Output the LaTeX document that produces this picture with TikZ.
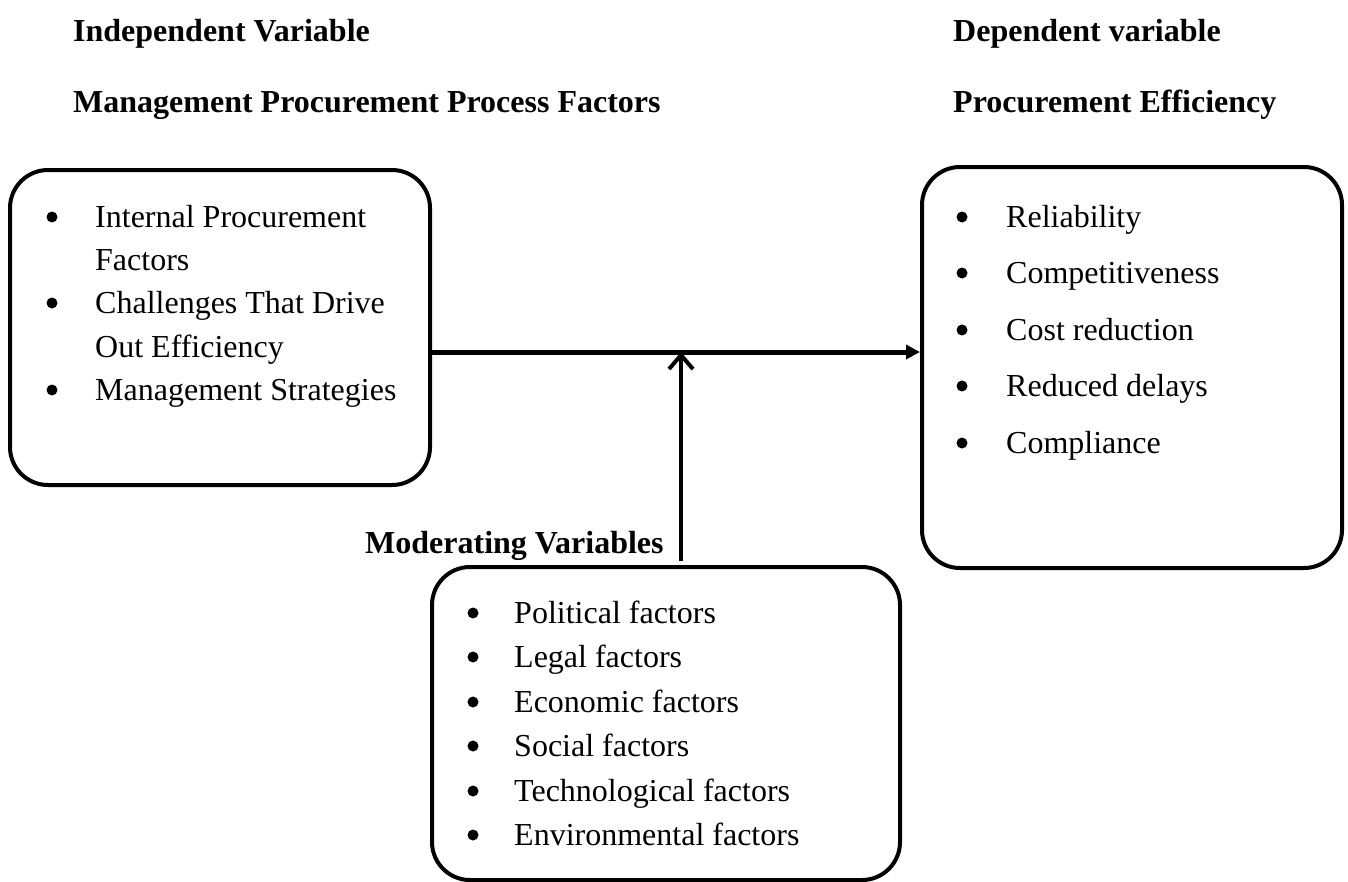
\documentclass[tikz,border=0pt]{standalone}
\usepackage{fontspec}
\setmainfont{Liberation Serif}
\usetikzlibrary{arrows.meta,positioning}
\tikzset{
    box/.style={draw, line width=4pt, rounded corners=38pt, inner sep=0pt},
    head/.style={anchor=base west, inner sep=0pt, font=\fontsize{32}{36}\selectfont\bfseries},
    item/.style={anchor=base west, inner sep=0pt, font=\fontsize{32}{36}\selectfont},
    bul/.style={circle, fill, inner sep=0pt, minimum size=11pt},
    link/.style={line width=5pt, -{Triangle[length=14pt,width=14pt]}},
    moder/.style={line width=4pt, -{Straight Barb[length=14pt,width=24pt,line width=4pt]}}
}

\begin{document}
\begin{tikzpicture}[x=1pt,y=-1pt]
\useasboundingbox (0,0) rectangle (1348,881);
% headings
\node[head] (ivhead) at (73,41) {Independent Variable};
\node[head] (ivname) at (73,112) {Management Procurement Process Factors};
\node[head] (dvhead) at (953,41) {Dependent variable};
\node[head] (dvname) at (953,112) {Procurement Efficiency};
\node[head] (mvhead) at (365,553) {Moderating Variables};
% boxes
\node[box, minimum width=420pt, minimum height=315pt] (ivbox) at (220,327.5) {};
\node[box, minimum width=420pt, minimum height=401pt] (dvbox) at (1132,367.5) {};
\node[box, minimum width=468pt, minimum height=313pt] (mvbox) at (666,723.5) {};
% independent items
\node[bul] (ivb1) at (52,217) {};
\node[item] (iv1) at (95,227) {Internal Procurement};
\node[item] (iv1b) at (95,270) {Factors};
\node[bul] (ivb2) at (52,303) {};
\node[item] (iv2) at (95,313) {Challenges That Drive};
\node[item] (iv2b) at (95,357) {Out Efficiency};
\node[bul] (ivb3) at (52,390) {};
\node[item] (iv3) at (95,400) {Management Strategies};
% dependent items
\node[bul] (dvb1) at (962,217) {};
\node[item] (dv1) at (1006,227) {Reliability};
\node[bul] (dvb2) at (962,273) {};
\node[item] (dv2) at (1006,283) {Competitiveness};
\node[bul] (dvb3) at (962,330) {};
\node[item] (dv3) at (1006,340) {Cost reduction};
\node[bul] (dvb4) at (962,386) {};
\node[item] (dv4) at (1006,396) {Reduced delays};
\node[bul] (dvb5) at (962,443) {};
\node[item] (dv5) at (1006,453) {Compliance};
% moderating items
\node[bul] (mvb1) at (473,613) {};
\node[item] (mv1) at (514,623) {Political factors};
\node[bul] (mvb2) at (473,657) {};
\node[item] (mv2) at (514,667) {Legal factors};
\node[bul] (mvb3) at (473,702) {};
\node[item] (mv3) at (514,712) {Economic factors};
\node[bul] (mvb4) at (473,746) {};
\node[item] (mv4) at (514,756) {Social factors};
\node[bul] (mvb5) at (473,791) {};
\node[item] (mv5) at (514,801) {Technological factors};
\node[bul] (mvb6) at (473,835) {};
\node[item] (mv6) at (514,845) {Environmental factors};
% connectors
\coordinate (meet) at (681,352);
\coordinate (mvtail) at (681,561);
\draw[link] (ivbox.east |- meet) -- (dvbox.west |- meet);
\draw[moder] (mvtail) -- (meet);
\end{tikzpicture}
\end{document}
